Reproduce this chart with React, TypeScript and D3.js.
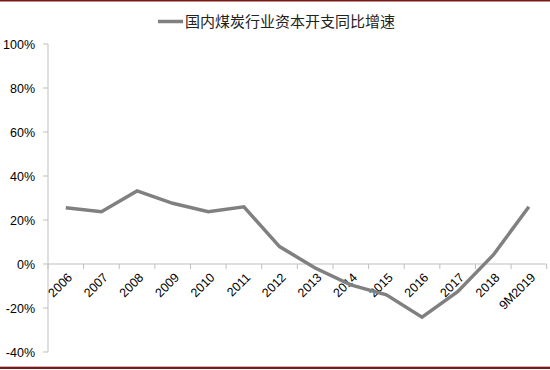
import React from "react";
import * as d3 from "d3";

const categories = ["2006","2007","2008","2009","2010","2011","2012","2013","2014","2015","2016","2017","2018","9M2019"];
const growth = [25.6, 23.8, 33.2, 27.6, 23.8, 26.0, 7.9, -1.8, -9.5, -14.0, -24.2, -12.6, 4.1, 26.0];
const yTicks = [-40, -20, 0, 20, 40, 60, 80, 100];
const seriesName = "国内煤炭行业资本开支同比增速";

const W = 550, H = 370;
const left = 48, right = 546.7, top = 44, bottom = 352;

export default function App() {
  const x = d3.scaleBand<string>().domain(categories).range([left, right]);
  const y = d3.scaleLinear().domain([-40, 100]).range([bottom, top]);
  const line = d3.line<number>()
    .x((_, i) => (x(categories[i]) as number) + x.bandwidth() / 2)
    .y((d) => y(d));
  const axisColor = "#bfbfbf";
  const y0 = y(0);
  const tickPositions = categories.map((c) => x(c) as number).concat([right]);
  return (
    <svg width={W} height={H} style={{ position: "absolute", left: 0, top: 0 }}>
      <rect x={0} y={0} width={W} height={H} fill="#fff" />
      <rect x={0} y={0} width={W} height={1.5} fill="#7b1818" />
      <rect x={0} y={366} width={W} height={0.8} fill="#c9a0a0" />
      <rect x={0} y={367} width={W} height={2} fill="#7b1818" />
      {/* legend */}
      <line x1={158} x2={183} y1={21.5} y2={21.5} stroke="#808080" strokeWidth={3.5} />
      <text x={185} y={27} fontSize={15} fontFamily="'Noto Sans CJK SC'" fill="#222">{seriesName}</text>
      {/* y axis */}
      <line x1={left} x2={left} y1={top} y2={bottom} stroke={axisColor} strokeWidth={1} />
      {yTicks.map((t) => (
        <g key={t}>
          <line x1={left - 5} x2={left} y1={y(t)} y2={y(t)} stroke={axisColor} />
          <text x={35} y={y(t) + 4.5} textAnchor="end" fontSize={12.5} fontFamily="'Liberation Sans', Arial" fill="#000">{t}%</text>
        </g>
      ))}
      {/* x axis at 0 */}
      <line x1={left} x2={right} y1={y0} y2={y0} stroke={axisColor} strokeWidth={1} />
      {tickPositions.map((p, i) => (
        <line key={i} x1={p} x2={p} y1={y0} y2={y0 + 5} stroke={axisColor} />
      ))}
      {categories.map((c) => {
        const cx = (x(c) as number) + x.bandwidth() / 2 + 1;
        const cy = y0 + 8;
        return (
          <text key={c} x={cx} y={cy} transform={`rotate(-45 ${cx} ${cy})`} textAnchor="end" dominantBaseline="hanging"
            fontSize={12.5} fontFamily="'Liberation Sans', Arial" fill="#000">{c}</text>
        );
      })}
      <path d={line(growth) || ""} fill="none" stroke="#808080" strokeWidth={3.5} strokeLinejoin="miter" />
    </svg>
  );
}
